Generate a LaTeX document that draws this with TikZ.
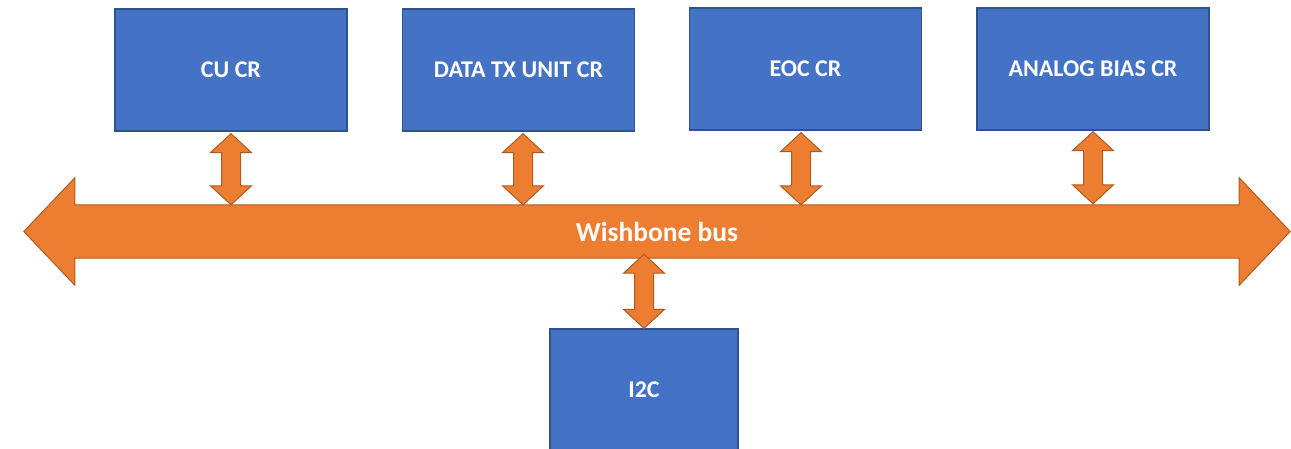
\documentclass[tikz,border=0pt]{standalone}
\usepackage{fontspec}
\setmainfont{Carlito}
\usetikzlibrary{calc,backgrounds}

\definecolor{crblue}{HTML}{4472C4}
\definecolor{crline}{HTML}{2F528F}
\definecolor{busorange}{HTML}{ED7D31}
\definecolor{busline}{HTML}{AE5A21}

\tikzset{
	crbox/.style={rectangle, fill=crblue, draw=crline, line width=1.3pt,
		minimum width=232, minimum height=122, inner sep=0pt,
		text=white, font=\fontsize{24}{28}\selectfont\bfseries},
	busshaft/.style={rectangle, minimum width=1164, minimum height=53, inner sep=0pt,
		text=white, font=\fontsize{27.5}{32}\selectfont\bfseries},
	busfill/.style={fill=busorange, draw=busline, line width=1pt, line join=miter},
}

% vertical two-headed link, tip #1 on top, tip #2 below
\newcommand\linkarrow[2]{\path[busfill] let \p1=(#1), \p2=(#2) in
	(\x1,\y1) -- (\x1+20.5pt,\y1-19pt) -- (\x1+9.5pt,\y1-19pt) -- (\x1+9.5pt,\y2+19pt)
	-- (\x1+20.5pt,\y2+19pt) -- (\x1,\y2) -- (\x1-20.5pt,\y2+19pt) -- (\x1-9.5pt,\y2+19pt)
	-- (\x1-9.5pt,\y1-19pt) -- (\x1-20.5pt,\y1-19pt) -- cycle;}

\begin{document}
\begin{tikzpicture}[x=1pt, y=-1pt]
		\useasboundingbox (0,0) rectangle (1291,449);
		
		% control registers
		\node[crbox] (cu) at (231, 70) {CU CR};
		\node[crbox] (dtx) at (518.5, 70) {DATA TX UNIT CR};
		\node[crbox] (eoc) at (805.5, 69) {EOC CR};
		\node[crbox] (bias) at (1093, 69) {ANALOG BIAS CR};
		
		\node[crbox, minimum width=188] (i2c) at (644, 390) {I2C};
		
		% the bus
		\node[busshaft] (bus) at (657, 231.5) {Wishbone bus};
		\begin{scope}[on background layer]
			\draw[busfill] (bus.north west) -- ($(bus.north west)+(0,-27)$) -- ($(bus.west)+(-51,0)$)
				-- ($(bus.south west)+(0,27)$) -- (bus.south west) -- (bus.south east)
				-- ($(bus.south east)+(0,27)$) -- ($(bus.east)+(51,0)$)
				-- ($(bus.north east)+(0,-27)$) -- (bus.north east) -- cycle;
		\end{scope}
		
		% links
		\linkarrow{$(cu.south)+(0,2)$}{cu.south |- bus.north}
		\linkarrow{$(dtx.south)+(4.5,2)$}{$(dtx.south |- bus.north)+(4.5,0)$}
		\linkarrow{$(eoc.south)+(-4.5,2)$}{$(eoc.south |- bus.north)+(-4.5,0)$}
		\linkarrow{$(bias.south)+(0,1)$}{$(bias.south |- bus.north)+(0,-1)$}
		\linkarrow{$(bus.south)+(-13,-4)$}{$(i2c.north)+(0,0)$}
		
	\end{tikzpicture}
\end{document}
